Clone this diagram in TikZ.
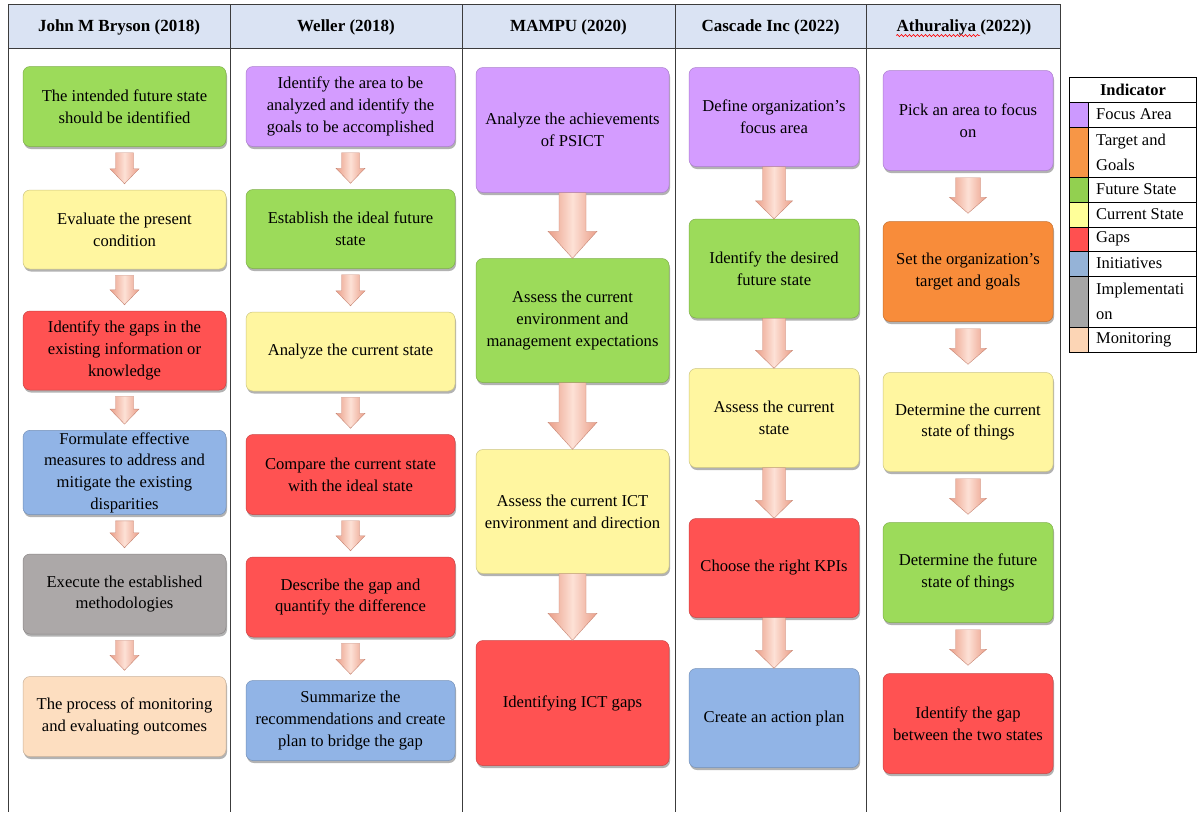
\documentclass[tikz,border=0pt]{standalone}
\usepackage{fontspec}
\setmainfont{Liberation Serif}
\usetikzlibrary{calc,shadows,decorations.pathmorphing}
\definecolor{cgreen}{RGB}{156,219,90}
\definecolor{cpurple}{RGB}{212,156,255}
\definecolor{cyellow}{RGB}{255,246,160}
\definecolor{cred}{RGB}{255,82,82}
\definecolor{cblue}{RGB}{145,180,230}
\definecolor{cgray}{RGB}{172,168,168}
\definecolor{cpeach}{RGB}{253,222,192}
\definecolor{corange}{RGB}{248,140,58}
\definecolor{apinkdark}{RGB}{234,158,136}
\definecolor{apinklight}{RGB}{253,225,214}
\definecolor{headbg}{RGB}{218,227,243}
\definecolor{tline}{RGB}{60,60,60}
\definecolor{lpurple}{RGB}{204,153,255}
\definecolor{lorange}{RGB}{247,150,70}
\definecolor{lgreen}{RGB}{146,208,80}
\definecolor{lyellow}{RGB}{255,255,153}
\definecolor{lred}{RGB}{255,80,80}
\definecolor{lblue}{RGB}{149,179,215}
\definecolor{lgray}{RGB}{166,166,166}
\definecolor{lpeach}{RGB}{252,213,181}
\tikzset{
 flowbox/.style={rounded corners=7pt, align=center, inner sep=2pt, fill=#1, draw=#1!80!black, line width=0.5pt,
   drop shadow={shadow xshift=1pt, shadow yshift=-2.5pt, opacity=0.3, fill=black},
   font=\fontsize{16.6}{21.7}\selectfont},
 flowarrowstyle/.style={left color=apinkdark, right color=apinkdark, middle color=apinklight, draw=apinkdark!85!black, line width=0.4pt},
 headtext/.style={font=\fontsize{17}{20}\selectfont\bfseries},
 legtext/.style={font=\fontsize{16.5}{25}\selectfont, anchor=west, align=left, inner sep=0pt},
 tableline/.style={draw=tline, line width=1pt},
 legline/.style={draw=black, line width=0.8pt},
}
% from, to, shaft half width, head half width, head length, gap top, gap bottom
\newcommand\flowarrow[7]{%
 \path[flowarrowstyle] let \p1=(#1.south), \p2=(#2.north) in
  (\x1-#3pt,\y1-#6pt) -- (\x1+#3pt,\y1-#6pt) -- (\x1+#3pt,\y2+#5pt+#7pt) -- (\x1+#4pt,\y2+#5pt+#7pt)
  -- (\x1,\y2+#7pt) -- (\x1-#4pt,\y2+#5pt+#7pt) -- (\x1-#3pt,\y2+#5pt+#7pt) -- cycle;}
\begin{document}
\begin{tikzpicture}[x=1pt,y=-1pt]
\useasboundingbox (0,0) rectangle (1197,812);
\fill[white] (0,0) rectangle (1197,812);
% table
\fill[headbg] (8,4) rectangle (1060,48);
\draw[tableline] (8,4) -- (1060,4);
\draw[tableline] (8,48) -- (1060,48);
\foreach \xx in {8,230,462,675,866,1060} {\draw[tableline] (\xx,4) -- (\xx,812);}
% headers
\node[headtext] (h1) at (119,27) {John M Bryson (2018)};
\node[headtext] (h2) at (346,27) {Weller (2018)};
\node[headtext] (h3) at (568.5,27) {MAMPU (2020)};
\node[headtext] (h4) at (770.5,27) {Cascade Inc (2022)};
\node[headtext] (h5) at (964,27) {Athuraliya (2022))};
\draw[red, line width=0.6pt, decorate, decoration={snake, segment length=4pt, amplitude=1.1pt}]
  ($(h5.base west)+(3pt,-4.5pt)$) -- ++(84pt,0pt);
% column 1
\node[flowbox=cgreen, minimum width=203pt, minimum height=80pt] (b11) at (124.5,106.5) {The intended future state\\should be identified};
\node[flowbox=cyellow, minimum width=203pt, minimum height=79pt] (b12) at (124.5,229.5) {Evaluate the present\\condition};
\node[flowbox=cred, minimum width=203pt, minimum height=79pt] (b13) at (124.5,350.5) {Identify the gaps in the\\existing information or\\knowledge};
\node[flowbox=cblue, minimum width=203pt, minimum height=80pt] (b14) at (124.5,472.5) {Formulate effective\\measures to address and\\mitigate the existing\\disparities};
\node[flowbox=cgray, minimum width=203pt, minimum height=80pt] (b15) at (124.5,594) {Execute the established\\methodologies};
\node[flowbox=cpeach, minimum width=203pt, minimum height=80pt] (b16) at (124.5,716.5) {The process of monitoring\\and evaluating outcomes};
% column 2
\node[flowbox=cpurple, minimum width=209pt, minimum height=80pt] (b21) at (350.5,106.5) {Identify the area to be\\analyzed and identify the\\goals to be accomplished};
\node[flowbox=cgreen, minimum width=209pt, minimum height=79pt] (b22) at (350.5,229) {Establish the ideal future\\state};
\node[flowbox=cyellow, minimum width=209pt, minimum height=79pt] (b23) at (350.5,351.5) {Analyze the current state};
\node[flowbox=cred, minimum width=209pt, minimum height=80pt] (b24) at (350.5,474.5) {Compare the current state\\with the ideal state};
\node[flowbox=cred, minimum width=209pt, minimum height=80pt] (b25) at (350.5,597) {Describe the gap and\\quantify the difference};
\node[flowbox=cblue, minimum width=209pt, minimum height=80pt] (b26) at (350.5,720.5) {Summarize the\\recommendations and create\\plan to bridge the gap};
% column 3
\node[flowbox=cpurple, minimum width=193pt, minimum height=125pt] (b31) at (572.5,130) {Analyze the achievements\\of PSICT};
\node[flowbox=cgreen, minimum width=193pt, minimum height=124pt] (b32) at (572.5,320.5) {Assess the current\\environment and\\management expectations};
\node[flowbox=cyellow, minimum width=193pt, minimum height=124pt] (b33) at (572.5,511.5) {Assess the current ICT\\environment and direction};
\node[flowbox=cred, minimum width=193pt, minimum height=125pt] (b34) at (572.5,703) {Identifying ICT gaps};
% column 4
\node[flowbox=cpurple, minimum width=170pt, minimum height=99pt] (b41) at (774,117) {Define organization’s\\focus area};
\node[flowbox=cgreen, minimum width=170pt, minimum height=99pt] (b42) at (774,268.5) {Identify the desired\\future state};
\node[flowbox=cyellow, minimum width=170pt, minimum height=99pt] (b43) at (774,418) {Assess the current\\state};
\node[flowbox=cred, minimum width=170pt, minimum height=99pt] (b44) at (774,568) {Choose the right KPIs};
\node[flowbox=cblue, minimum width=170pt, minimum height=99pt] (b45) at (774,718) {Create an action plan};
% column 5
\node[flowbox=cpurple, minimum width=170pt, minimum height=100pt] (b51) at (968,120.5) {Pick an area to focus\\on};
\node[flowbox=corange, minimum width=170pt, minimum height=100pt] (b52) at (968,271.5) {Set the organization’s\\target and goals};
\node[flowbox=cyellow, minimum width=170pt, minimum height=99pt] (b53) at (968,422) {Determine the current\\state of things};
\node[flowbox=cgreen, minimum width=170pt, minimum height=100pt] (b54) at (968,572.5) {Determine the future\\state of things};
\node[flowbox=cred, minimum width=170pt, minimum height=100pt] (b55) at (968,723.5) {Identify the gap\\between the two states};
% arrows
\foreach \a/\b in {b11/b12,b12/b13,b13/b14,b14/b15,b15/b16,b21/b22,b22/b23,b23/b24,b24/b25,b25/b26}
  {\flowarrow{\a}{\b}{9}{14.5}{15}{6}{6}}
\foreach \a/\b in {b31/b32,b32/b33,b33/b34}
  {\flowarrow{\a}{\b}{13.5}{24.5}{27}{0}{0}}
\foreach \a/\b in {b41/b42,b42/b43,b43/b44,b44/b45}
  {\flowarrow{\a}{\b}{11.5}{18.5}{18}{0}{0}}
\foreach \a/\b in {b51/b52,b52/b53,b53/b54,b54/b55}
  {\flowarrow{\a}{\b}{12.5}{18.5}{16}{7}{8}}
% legend
\fill[lpurple] (1069,102) rectangle (1088,127);
\fill[lorange] (1069,127) rectangle (1088,177);
\fill[lgreen] (1069,177) rectangle (1088,202);
\fill[lyellow] (1069,202) rectangle (1088,227);
\fill[lred] (1069,227) rectangle (1088,251);
\fill[lblue] (1069,251) rectangle (1088,276);
\fill[lgray] (1069,276) rectangle (1088,327);
\fill[lpeach] (1069,327) rectangle (1088,352);
\draw[legline] (1069,77) rectangle (1196.5,352);
\foreach \yy in {102,127,177,202,227,251,276,327} {\draw[legline] (1069,\yy) -- (1196.5,\yy);}
\draw[legline] (1088,102) -- (1088,352);
\node[font=\fontsize{16.5}{20}\selectfont\bfseries] (lt) at (1133,90) {Indicator};
\node[legtext] (l1) at (1096,114.5) {Focus Area};
\node[legtext] (l2) at (1096,152) {Target and\\Goals};
\node[legtext] (l3) at (1096,189.5) {Future State};
\node[legtext] (l4) at (1096,214.5) {Current State};
\node[legtext] (l5) at (1096,239) {Gaps};
\node[legtext] (l6) at (1096,263.5) {Initiatives};
\node[legtext] (l7) at (1096,301.5) {Implementati\\on};
\node[legtext] (l8) at (1096,339.5) {Monitoring};
\end{tikzpicture}
\end{document}
